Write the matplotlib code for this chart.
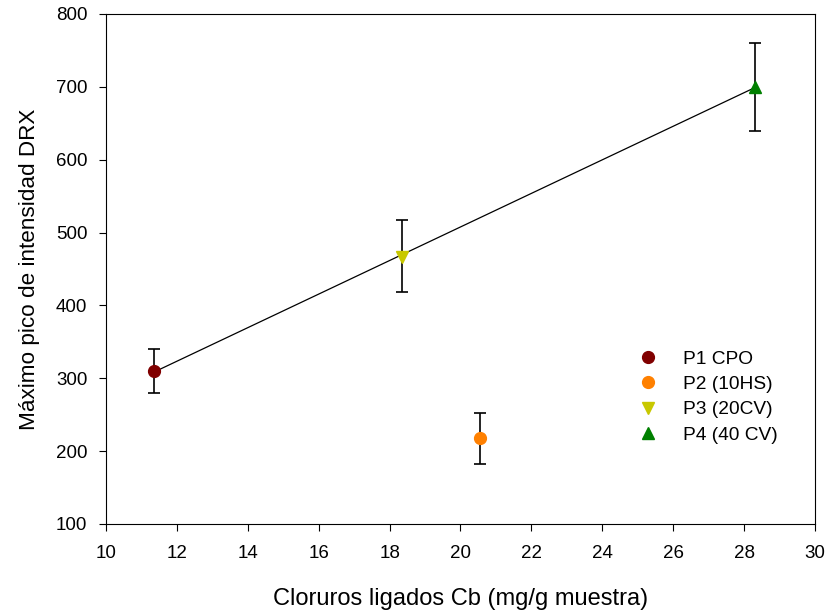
import numpy as np
import matplotlib.pyplot as plt

plt.rcParams["font.family"] = ["Liberation Sans", "DejaVu Sans"]

# data
labels = ["P1 CPO", "P2 (10HS)", "P3 (20CV)", "P4 (40 CV)"]
cb = [11.35, 20.55, 18.35, 28.3]
drx = [310, 218, 467, 700]
err_lo = [30, 36, 49, 60]
err_hi = [30, 34, 50, 60]
colors = ["#800000", "#ff8000", "#c8c800", "#008000"]
markers = ["o", "o", "v", "^"]
fit_idx = [0, 2, 3]

fig = plt.figure(figsize=(8.3, 6.11), dpi=100)
ax = fig.add_axes([0.1277, 0.1424, 0.8542, 0.8347])

# regression through P1, P3, P4
fx = np.array([cb[i] for i in fit_idx])
fy = np.array([drx[i] for i in fit_idx])
k, b = np.polyfit(fx, fy, 1)
xs = np.array([fx.min(), fx.max()])
ax.plot(xs, k * xs + b, color="black", linewidth=0.9, zorder=2)

for i in range(len(labels)):
    ax.errorbar(cb[i], drx[i], yerr=[[err_lo[i]], [err_hi[i]]], fmt="none",
                ecolor="black", elinewidth=1.2, capsize=4.5, capthick=1.2, zorder=1)
    ax.plot(cb[i], drx[i], linestyle="none", marker=markers[i], color=colors[i],
            markersize=8.5, label=labels[i], zorder=3)

ax.set_xlim(10, 30)
ax.set_ylim(100, 800)
ax.set_xticks(np.arange(10, 31, 2))
ax.set_yticks(np.arange(100, 801, 100))
ax.tick_params(direction="out", length=5, labelsize=13.5)
ax.tick_params(axis="x", pad=10)
ax.tick_params(axis="y", pad=8.5)
ax.set_xlabel("Cloruros ligados Cb (mg/g muestra)", fontsize=17, labelpad=19)
ax.set_ylabel("Máximo pico de intensidad DRX", fontsize=16.2, labelpad=11)

ax.legend(loc="upper left", bbox_to_anchor=(0.7265, 0.356), frameon=False,
          fontsize=13.8, handletextpad=0.85, labelspacing=0.42, borderaxespad=0)

fig.savefig("out.png", dpi=100)
